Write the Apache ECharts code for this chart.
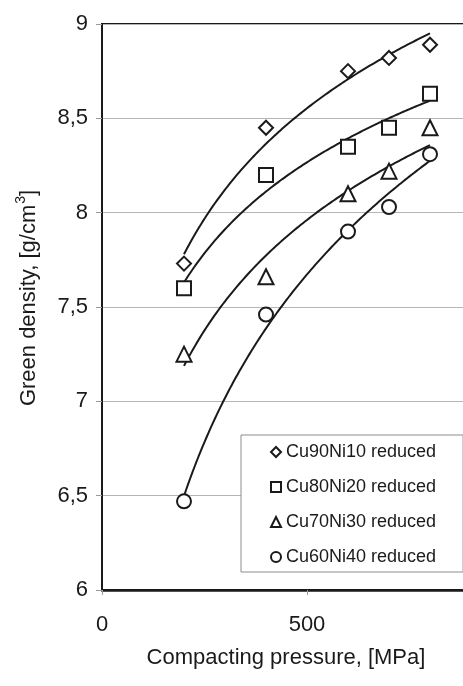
<!DOCTYPE html>
<html>
<head>
<meta charset="utf-8">
<script src="https://cdn.jsdelivr.net/npm/echarts@6/dist/echarts.min.js"></script>
<style>
  html, body { margin: 0; padding: 0; background: #ffffff; }
  #chart { width: 463px; height: 686px; }
</style>
</head>
<body>
<div id="chart"></div>
<script>
// Compacting pressure [MPa] at which each powder was pressed
const pressure = [200, 400, 600, 700, 800];

// Green density [g/cm3] for each reduced powder
const cu90ni10 = [7.73, 8.45, 8.75, 8.82, 8.89];
const cu80ni20 = [7.60, 8.20, 8.35, 8.45, 8.63];
const cu70ni30 = [7.25, 7.66, 8.10, 8.22, 8.45];
const cu60ni40 = [6.47, 7.46, 7.90, 8.03, 8.31];

const seriesNames = ['Cu90Ni10 reduced', 'Cu80Ni20 reduced', 'Cu70Ni30 reduced', 'Cu60Ni40 reduced'];
const seriesSymbols = ['diamond', 'rect', 'triangle', 'circle'];
const seriesValues = [cu90ni10, cu80ni20, cu70ni30, cu60ni40];

// Axis ranges and tick steps
const xRange = [0, 1000];
const xStep = 500;
const yRange = [6, 9];
const yStep = 0.5;

const FONT = '"Liberation Sans", Arial, sans-serif';
const INK = '#1a1a1a';

// Logarithmic least-squares trend: y = a * ln(x) + b
function logFit(xs, ys) {
  const lx = xs.map(Math.log);
  const n = xs.length;
  const mx = lx.reduce((s, v) => s + v, 0) / n;
  const my = ys.reduce((s, v) => s + v, 0) / n;
  let sxy = 0, sxx = 0;
  for (let i = 0; i < n; i++) {
    sxy += (lx[i] - mx) * (ys[i] - my);
    sxx += (lx[i] - mx) * (lx[i] - mx);
  }
  const a = sxy / sxx;
  const b = my - a * mx;
  return x => a * Math.log(x) + b;
}

// Sample a fitted trend over the measured pressure span
function trendPoints(xs, ys) {
  const f = logFit(xs, ys);
  const x0 = Math.min(...xs), x1 = Math.max(...xs);
  const pts = [];
  for (let x = x0; x <= x1; x += 5) pts.push([x, f(x)]);
  return pts;
}

const markerSeries = seriesValues.map((vals, i) => ({
  name: seriesNames[i],
  type: 'scatter',
  symbol: seriesSymbols[i],
  symbolSize: seriesSymbols[i] === 'triangle' ? 15 : 14,
  itemStyle: { color: '#ffffff', borderColor: INK, borderWidth: 2, opacity: 1 },
  data: pressure.map((p, j) => [p, vals[j]]),
  z: 3
}));

const trendSeries = seriesValues.map((vals, i) => ({
  name: seriesNames[i] + ' trend',
  type: 'line',
  showSymbol: false,
  smooth: false,
  lineStyle: { color: INK, width: 2 },
  data: trendPoints(pressure, vals),
  silent: true,
  z: 2
}));

const chart = echarts.init(document.getElementById('chart'), null, { renderer: 'canvas' });

chart.setOption({
  backgroundColor: '#ffffff',
  animation: false,
  grid: {
    left: 102,
    top: 24,
    width: 410,
    height: 566,
    outerBoundsMode: 'none',
    containLabel: false,
    show: true,
    borderColor: INK,
    borderWidth: 2,
    backgroundColor: 'transparent'
  },
  xAxis: {
    type: 'value',
    min: xRange[0],
    max: xRange[1],
    interval: xStep,
    axisLine: { show: true, onZero: false, lineStyle: { color: INK, width: 2.5 } },
    axisTick: { show: true, length: 5, lineStyle: { color: '#999999', width: 1 } },
    axisLabel: { margin: 24, fontFamily: FONT, fontSize: 22, color: INK, showMaxLabel: false },
    splitLine: { show: false }
  },
  yAxis: {
    type: 'value',
    min: yRange[0],
    max: yRange[1],
    interval: yStep,
    axisLine: { show: true, onZero: false, lineStyle: { color: INK, width: 2 } },
    axisTick: { show: true, length: 6, lineStyle: { color: '#999999', width: 1 } },
    axisLabel: {
      margin: 14,
      fontFamily: FONT,
      fontSize: 22,
      color: INK,
      formatter: v => String(v).replace('.', ',')
    },
    splitLine: { show: true, lineStyle: { color: '#b5b5b5', width: 1 } }
  },
  legend: {
    data: seriesNames,
    orient: 'vertical',
    left: 241,
    top: 435,
    width: 220,
    padding: [8, 27, 6, 29],
    itemGap: 17,
    itemWidth: 10,
    itemHeight: 10,
    itemStyle: { borderWidth: 2 },
    backgroundColor: '#ffffff',
    borderColor: '#8c8c8c',
    borderWidth: 1,
    borderRadius: 0,
    textStyle: { fontFamily: FONT, fontSize: 18, color: INK },
    selectedMode: false
  },
  graphic: [
    {
      type: 'text',
      x: 27,
      y: 298,
      rotation: Math.PI / 2,
      style: {
        text: '{t|Green density, [g/cm}{s|3}{t|]}',
        align: 'center',
        verticalAlign: 'middle',
        fill: INK,
        rich: {
          t: { fontFamily: FONT, fontSize: 22, color: INK, lineHeight: 26, verticalAlign: 'bottom' },
          s: { fontFamily: FONT, fontSize: 14, color: INK, lineHeight: 26, verticalAlign: 'top', padding: [0, 0, 0, 1] }
        }
      }
    },
    {
      type: 'text',
      x: 286,
      y: 658,
      style: {
        text: 'Compacting pressure, [MPa]',
        align: 'center',
        verticalAlign: 'middle',
        fontFamily: FONT,
        fontSize: 22,
        fill: INK
      }
    }
  ],
  series: trendSeries.concat(markerSeries)
});
</script>
</body>
</html>
